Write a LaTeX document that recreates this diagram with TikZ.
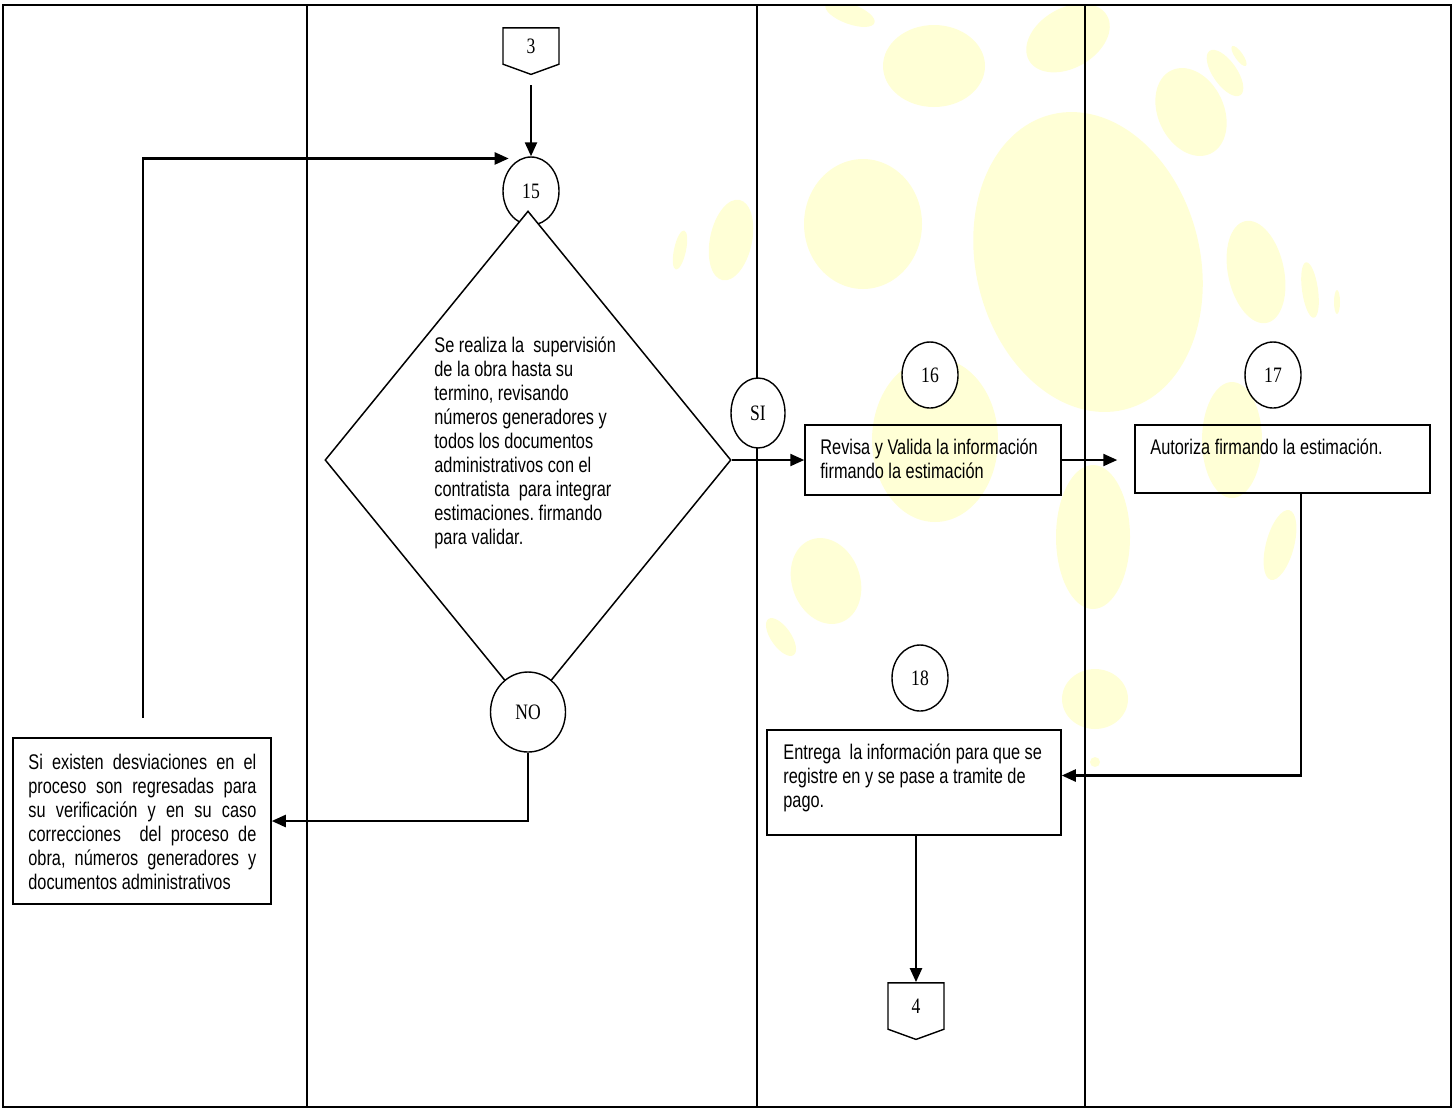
\documentclass[tikz,border=0pt]{standalone}
\usepackage{fontspec}
\newfontfamily\narrowfont{Liberation Sans}[FakeStretch=0.77]
\newfontfamily\numfont{Liberation Serif}[FakeStretch=0.8]
\usetikzlibrary{shapes.geometric,shapes.symbols,arrows.meta,calc}
\definecolor{blobyellow}{RGB}{255,255,214}
\frenchspacing
\tikzset{
  lane/.style={line width=0.6pt},
  procbox/.style={draw, rectangle, line width=0.75pt, inner sep=0pt},
  numcirc/.style={draw, ellipse, fill=white, line width=0.7pt, inner sep=0pt,
    minimum width=28pt, minimum height=33pt, font=\numfont\fontsize{11}{12}\selectfont},
  offpage/.style={draw, shape=signal, signal to=south, signal pointer angle=140,
    fill=white, line width=0.7pt, inner sep=0pt, minimum width=28pt, minimum height=24pt,
    font=\numfont\fontsize{11}{12}\selectfont},
  txt/.style={inner sep=0pt, font=\narrowfont\fontsize{10.6}{12}\selectfont, align=left,
    execute at begin node={\spaceskip=0pt\xspaceskip=0pt}},
  flow/.style={line width=1.15pt, -{Triangle[length=7pt,width=6pt]}}
}
\begin{document}
\begin{tikzpicture}[x=0.5pt, y=-0.5pt]
\useasboundingbox (0,0) rectangle (1454,1110);
% watermark
\begin{scope}
  \clip (3,5) rectangle (1451,1107);
  \foreach \cx/\cy/\rx/\ry/\a in {1088/262/112/152/14, 863/224/59/65/0, 934/66/51/41/0,
      850/14/26/10/-20, 1068/38/45/30/30, 731/240/21/41/-12, 680/250/6/20/-12,
      1191/112/33/46/25, 1225/73/12/27/35, 1239/56/4/12/35, 1256/272/28/52/12,
      1310/290/8/28/8, 1337/302/3/12/0, 1232/440/30/58/0, 1093/537/37/72/0,
      1280/545/14/36/-15, 935/440/63/82/0, 826/581/34/44/20, 781/637/10/22/35,
      1095/699/33/30/0, 1095/762/5/5/0}
    \fill[blobyellow, rotate around={\a:(\cx,\cy)}] (\cx,\cy) ellipse [x radius=\rx, y radius=\ry];
\end{scope}
% lanes
\draw[line width=1pt] (3,5) rectangle (1451,1107);
\foreach \x in {307,757,1085} \draw[lane] (\x,5) -- (\x,1107);

% nodes
\node[offpage, minimum height=19pt] (c3) at (531,46) {3};
\node[numcirc, minimum height=34pt] (c15) at (531,191) {15};
\node[draw, diamond, fill=white, line width=0.75pt, inner sep=0pt,
  minimum width=203pt, minimum height=249pt] (dec) at (528,460) {};
\node[numcirc, minimum width=37.5pt, minimum height=40pt] (cno) at (528,712) {NO};
\node[numcirc, minimum width=27pt, minimum height=35pt] (csi) at (758,413) {SI};
\node[txt, text width=100pt, anchor=base west] (tdec) at (434,352)
  {Se realiza la\ \ supervisión\\ de la obra hasta su\\ termino, revisando\\
   números generadores y\\ todos los documentos\\ administrativos con el\\
   contratista\ \ para integrar\\ estimaciones. firmando\\ para validar.};

\node[procbox, minimum width=129pt, minimum height=83pt] (bl) at (142,821) {};
\node[txt, text width=114pt, align=justify, anchor=base west] (tl) at (28,769)
  {Si existen desviaciones en el\linebreak proceso son regresadas para\linebreak
   su verificación y en su caso\linebreak correcciones\ \ del proceso de\linebreak
   obra, números generadores y\linebreak documentos administrativos};

\node[numcirc] (c16) at (930,375) {16};
\node[procbox, minimum width=128pt, minimum height=35pt] (b16) at (933,460) {};
\node[txt, text width=118pt, anchor=base west] (t16) at (820,454)
  {Revisa y Valida la información\\ firmando la estimación};

\node[numcirc] (c17) at (1273,375) {17};
\node[procbox, minimum width=147.5pt, minimum height=34pt] (b17) at (1282.5,459) {};
\node[txt, text width=135pt, anchor=base west] (t17) at (1150,454) {Autoriza firmando la estimación.};

\node[numcirc] (c18) at (920,678) {18};
\node[procbox, minimum width=147pt, minimum height=52.5pt] (b18) at (914,782.5) {};
\node[txt, text width=135pt, anchor=base west] (t18) at (783,759)
  {Entrega\ \ la información para que se\\ registre en y se pase a tramite de\\ pago.};

\node[offpage] (c4) at (916,1006) {4};

% connectors
\coordinate (fb) at (143,718);
\draw[flow, shorten <=5pt] (c3.south) -- (c15.north);
\draw[flow] (fb) |- ([xshift=-1pt,yshift=4pt]c15.north west);
\draw[flow] (dec.east) -- (dec.east -| b16.west);
\draw[flow, shorten >=8.5pt] (b16.east) -- (b16.east -| b17.west);
\draw[flow] ([xshift=9.25pt]b17.south) |- ([yshift=3.5pt]b18.east);
\draw[flow] (cno.south) |- (bl.east);
\draw[flow] (c4.north |- b18.south) -- (c4.north);
\end{tikzpicture}
\end{document}
